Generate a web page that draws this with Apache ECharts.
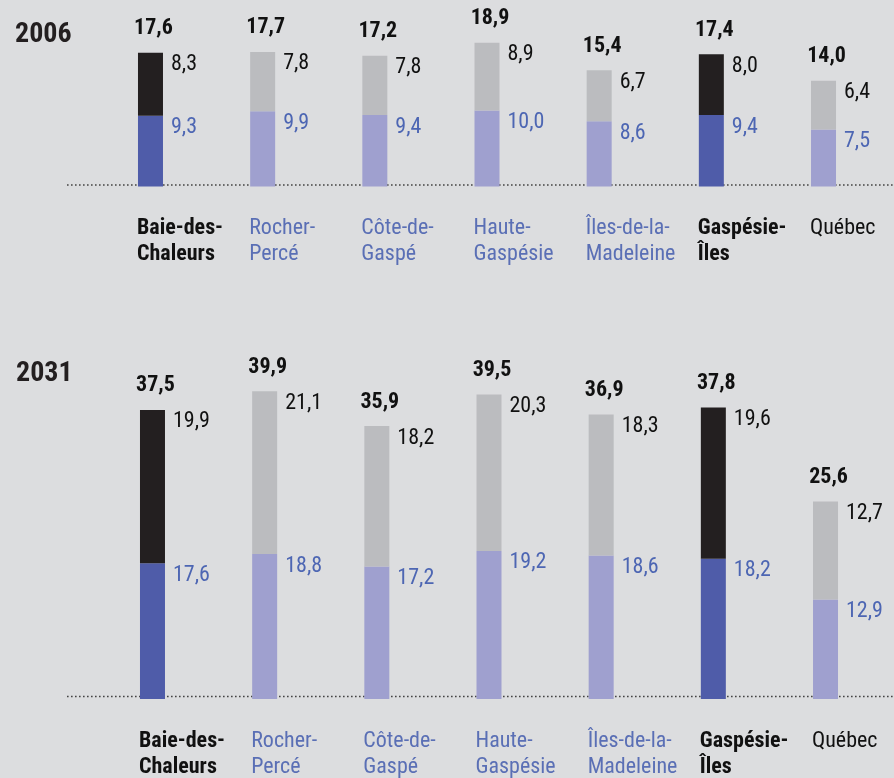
<!DOCTYPE html>
<html><head><meta charset="utf-8">
<script src="https://cdn.jsdelivr.net/npm/echarts@6/dist/echarts.min.js"></script>
<style>html,body{margin:0;padding:0;background:#dcdddf;}#c{width:894px;height:778px;}</style>
</head><body><div id="c"></div>
<script>
const categories = ['Baie-des-\nChaleurs', 'Rocher-\nPercé', 'Côte-de-\nGaspé', 'Haute-\nGaspésie', 'Îles-de-la-\nMadeleine', 'Gaspésie-\nÎles', 'Québec'];
const highlight = [true, false, false, false, false, true, false];
const years = ['2006', '2031'];
const bottom2006 = [9.3, 9.9, 9.4, 10.0, 8.6, 9.4, 7.5];
const top2006 = [8.3, 7.8, 7.8, 8.9, 6.7, 8.0, 6.4];
const total2006 = [17.6, 17.7, 17.2, 18.9, 15.4, 17.4, 14.0];
const bottom2031 = [17.6, 18.8, 17.2, 19.2, 18.6, 18.2, 12.9];
const top2031 = [19.9, 21.1, 18.2, 20.3, 18.3, 19.6, 12.7];
const total2031 = [37.5, 39.9, 35.9, 39.5, 36.9, 37.8, 25.6];

const FONT = "'Roboto Condensed', 'Open Sans Condensed', sans-serif";
const C = {
  darkTop: '#231f20', darkBottom: '#4f5ca9',
  lightTop: '#bbbcbf', lightBottom: '#9fa0cf',
  blueText: '#4d66b3', catBlue: '#5a6fb5', black: '#111'
};
const fmt = v => v.toFixed(1).replace('.', ',');

function panel(gi, bottoms, tops, totals) {
  const stack = 's' + gi;
  const catSeries = {
    type: 'bar', xAxisIndex: gi, yAxisIndex: gi, stack, barWidth: 25, silent: true,
    data: categories.map((c, i) => ({
      value: 0,
      label: {
        show: true, position: [0, 0], offset: [-1, 29], align: 'left', verticalAlign: 'top',
        formatter: c, fontFamily: FONT, fontSize: 22, lineHeight: 26,
        fontWeight: highlight[i] ? 'bold' : 'normal',
        color: (highlight[i] || i === categories.length - 1) ? C.black : C.catBlue
      }
    }))
  };
  const bottomSeries = {
    type: 'bar', xAxisIndex: gi, yAxisIndex: gi, stack, barWidth: 25, silent: true,
    data: bottoms.map((v, i) => ({ value: v, itemStyle: { color: highlight[i] ? C.darkBottom : C.lightBottom } })),
    label: { show: true, position: ['100%', 0], offset: [8, 1], align: 'left', verticalAlign: 'top',
      formatter: p => fmt(p.value), fontFamily: FONT, fontSize: 22, color: C.blueText }
  };
  const topSeries = {
    type: 'bar', xAxisIndex: gi, yAxisIndex: gi, stack, barWidth: 25, silent: true,
    data: tops.map((v, i) => ({ value: v, itemStyle: { color: highlight[i] ? C.darkTop : C.lightTop } })),
    label: { show: true, position: ['100%', 0], offset: [8, 1], align: 'left', verticalAlign: 'top',
      formatter: p => fmt(p.value), fontFamily: FONT, fontSize: 22, color: C.black }
  };
  const totalSeries = {
    type: 'bar', xAxisIndex: gi, yAxisIndex: gi, stack, barWidth: 25, silent: true,
    data: totals.map(() => 0),
    label: { show: true, position: 'top', distance: 13, offset: [3, 0],
      formatter: p => fmt(totals[p.dataIndex]), fontFamily: FONT, fontSize: 22, fontWeight: 'bold', color: C.black }
  };
  return [catSeries, bottomSeries, topSeries, totalSeries];
}

const chart = echarts.init(document.getElementById('c'), null, { renderer: 'canvas' });
const axisX = gi => ({ type: 'category', gridIndex: gi, data: categories, axisLine: { show: false }, axisTick: { show: false }, axisLabel: { show: false }, splitLine: { show: false } });
const axisY = (gi, max) => ({ type: 'value', gridIndex: gi, min: 0, max, show: false, splitLine: { show: false } });
chart.setOption({
  backgroundColor: '#dcdddf',
  animation: false,
  title: [
    { text: years[0], left: 10, top: 16, textStyle: { fontFamily: FONT, fontSize: 28, fontWeight: 'bold', color: '#231f20' } },
    { text: years[1], left: 11, top: 355, textStyle: { fontFamily: FONT, fontSize: 28, fontWeight: 'bold', color: '#231f20' } }
  ],
  grid: [
    { left: 94.4, width: 785.2, top: 34.5, height: 152 },
    { left: 96.4, width: 785.2, top: 390.6, height: 308.4 }
  ],
  xAxis: [axisX(0), axisX(1)],
  yAxis: [axisY(0, 20), axisY(1, 40)],
  series: [...panel(0, bottom2006, top2006, total2006), ...panel(1, bottom2031, top2031, total2031)]
});

const base0 = chart.convertToPixel({ gridIndex: 0 }, [0, 0])[1];
const base1 = chart.convertToPixel({ gridIndex: 1 }, [0, 0])[1];
const dotted = y => ({ type: 'line', z: -1, silent: true,
  shape: { x1: 67, y1: y, x2: 894, y2: y },
  style: { stroke: '#444', lineWidth: 1.6, lineDash: [1.6, 2.4] } });
chart.setOption({ graphic: [dotted(base0 - 1.5), dotted(base1 - 2.5)] });
</script></body></html>
